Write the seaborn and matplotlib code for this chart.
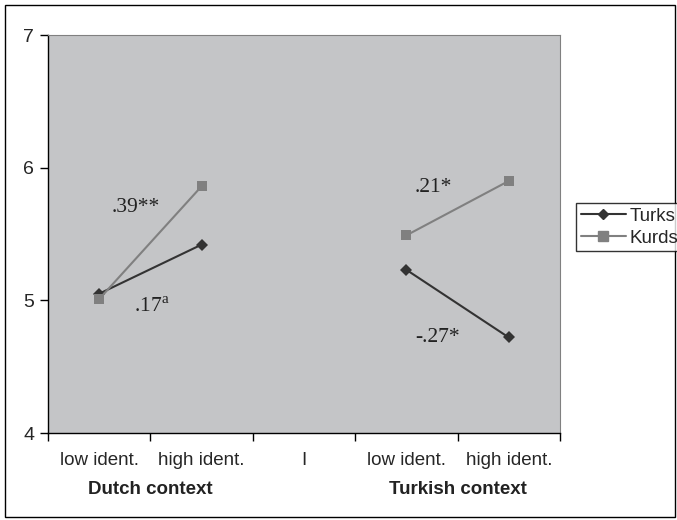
import matplotlib
matplotlib.use('Agg')
from matplotlib import pyplot as plt
from matplotlib.patches import Rectangle
from matplotlib.ticker import FixedLocator
import pandas as pd
import seaborn as sns

# data
tick_labels = ['low ident.', 'high ident.', 'I', 'low ident.', 'high ident.']
positions = [0, 1, 3, 4]
contexts = ['Dutch', 'Dutch', 'Turkish', 'Turkish']
turks = [5.05, 5.42, 5.23, 4.72]
kurds = [5.01, 5.86, 5.49, 5.90]
group_labels = ['Dutch context', 'Turkish context']
annotations = ['.39**', '.17$^{\\mathregular{a}}$', '.21*', '-.27*']
annot_xy = [(0.36, 5.70), (0.51, 4.95), (3.26, 5.85), (3.30, 4.72)]

rows = []
for name, vals in [('Turks', turks), ('Kurds', kurds)]:
    for p, c, v in zip(positions, contexts, vals):
        rows.append({'pos': p, 'value': v, 'group': name, 'context': c})
df = pd.DataFrame(rows)

sns.set_style('white')
plt.rcParams['font.family'] = ['Liberation Sans', 'DejaVu Sans']

fig = plt.figure(figsize=(6.77, 5.2), dpi=100)
ax = fig.add_axes([48 / 677, 1 - 433 / 520, 512 / 677, 398 / 520])
ax.set_facecolor('#c4c5c7')

sns.lineplot(data=df, x='pos', y='value', hue='group', style='group',
             units='context', estimator=None, sort=False,
             palette={'Turks': '#333333', 'Kurds': '#808080'},
             markers={'Turks': 'D', 'Kurds': 's'}, dashes=False,
             markersize=6.5, markeredgewidth=0, linewidth=1.5, legend=False, ax=ax)

ax.set_xlim(-0.5, 4.5)
ax.set_ylim(4, 7)
ax.set_yticks([4, 5, 6, 7])
ax.set_xticks([-0.5, 0.5, 1.5, 2.5, 3.5, 4.5])
ax.set_xticklabels([])
ax.xaxis.set_minor_locator(FixedLocator(range(5)))
ax.set_xticklabels(tick_labels, minor=True)
ax.tick_params(axis='x', which='major', direction='out', length=6, width=1, color='black', bottom=True)
ax.tick_params(axis='x', which='minor', length=0, pad=14, labelsize=13.5)
ax.tick_params(axis='y', direction='out', length=6, width=1, color='black', left=True, labelsize=14, pad=4)
ax.set_xlabel('')
ax.set_ylabel('')
for s in ['top', 'right']:
    ax.spines[s].set_color('#808080')
for s in ['left', 'bottom']:
    ax.spines[s].set_color('black')
    ax.spines[s].set_linewidth(1)

for txt, (x, y) in zip(annotations, annot_xy):
    ax.text(x, y, txt, fontsize=15.5, family=['Liberation Serif', 'DejaVu Serif'],
            ha='center', va='center', color='#222222')

for lbl, x in zip(group_labels, [0.5, 3.5]):
    ax.text(x, -0.143, lbl, transform=ax.get_xaxis_transform(), ha='center',
            va='center', fontsize=13.5, fontweight='bold', color='#222222')

handles = [plt.Line2D([], [], color='#333333', marker='D', markersize=5.5, lw=1.5),
           plt.Line2D([], [], color='#808080', marker='s', markersize=6.5, lw=1.5)]
leg = fig.legend(handles, ['Turks', 'Kurds'], loc='upper left',
                 bbox_to_anchor=(576 / 677, 1 - 203 / 520), fontsize=13.5,
                 frameon=True, fancybox=False, borderpad=0.25, handlelength=2.4,
                 handletextpad=0.2, labelspacing=0.25, borderaxespad=0)
leg.get_frame().set_edgecolor('black')
leg.get_frame().set_linewidth(1)

fig.patches.append(Rectangle((5 / 677, 3 / 520), 670 / 677, 512 / 520,
                             transform=fig.transFigure, fill=False,
                             edgecolor='black', linewidth=1))

fig.savefig('out.png', dpi=100)
